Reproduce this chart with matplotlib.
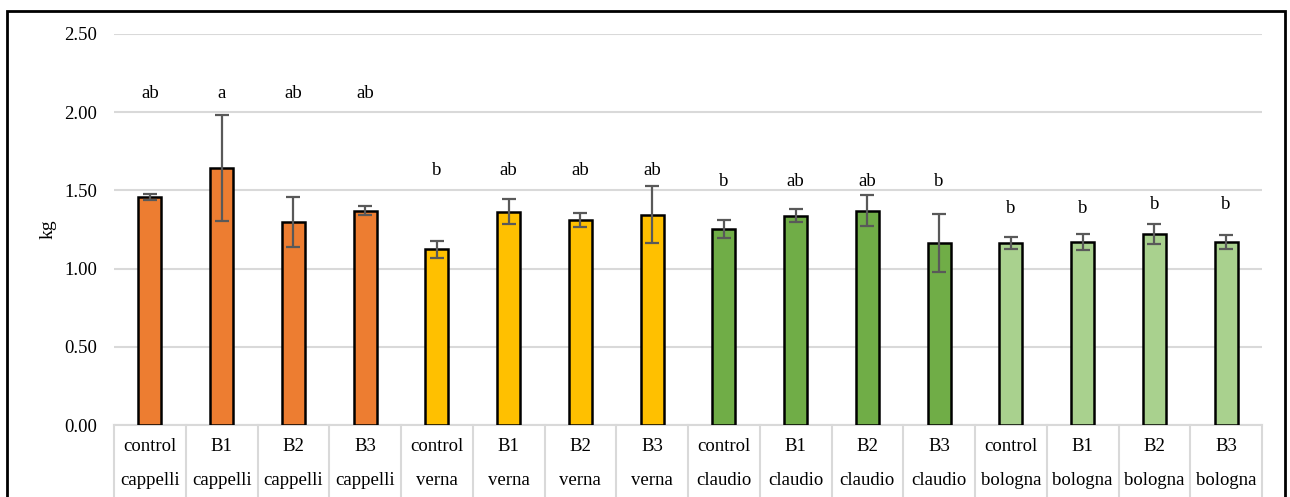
import matplotlib
matplotlib.use("Agg")
import matplotlib.pyplot as plt
from matplotlib.patches import Rectangle
import matplotlib.transforms as mtransforms

plt.rcParams['font.family'] = ['Liberation Serif', 'DejaVu Serif']

treatments = ["control", "B1", "B2", "B3"] * 4
varieties = ["cappelli"] * 4 + ["verna"] * 4 + ["claudio"] * 4 + ["bologna"] * 4
values = [1.46, 1.645, 1.30, 1.37,
          1.123, 1.364, 1.311, 1.345,
          1.253, 1.338, 1.37, 1.162,
          1.162, 1.17, 1.219, 1.168]
errors = [0.02, 0.34, 0.16, 0.03,
          0.055, 0.08, 0.045, 0.18,
          0.06, 0.04, 0.10, 0.185,
          0.037, 0.052, 0.063, 0.045]
letters = ["ab", "a", "ab", "ab",
           "b", "ab", "ab", "ab",
           "b", "ab", "ab", "b",
           "b", "b", "b", "b"]
letter_y = [2.09, 2.09, 2.09, 2.09,
            1.60, 1.60, 1.60, 1.60,
            1.528, 1.528, 1.528, 1.528,
            1.357, 1.357, 1.379, 1.379]
variety_colors = {"cappelli": "#ED7D31", "verna": "#FFC000",
                  "claudio": "#70AD47", "bologna": "#A9D18E"}
yticks = [0.0, 0.5, 1.0, 1.5, 2.0, 2.5]

W, H = 1290, 497
fig = plt.figure(figsize=(W / 100, H / 100), dpi=100)
ax = fig.add_axes([114 / W, (H - 425) / H, (1262 - 114) / W, (425 - 34) / H])

x = list(range(len(values)))
colors = [variety_colors[v] for v in varieties]
ax.bar(x, values, width=0.32, color=colors, edgecolor="black", linewidth=1.8, zorder=3)
ax.errorbar(x, values, yerr=errors, fmt="none", ecolor="#595959", elinewidth=1.6,
            capsize=5, capthick=1.6, zorder=4)

for xi, lab, ly in zip(x, letters, letter_y):
    ax.text(xi, ly, lab, ha="center", va="baseline", fontsize=13.5, color="black")

ax.set_xlim(-0.5, len(values) - 0.5)
ax.set_ylim(0, 2.5)
ax.set_yticks(yticks)
ax.set_yticklabels([f"{t:.2f}" for t in yticks], fontsize=13.5)
ax.tick_params(axis="y", length=0, pad=12)
ax.set_xticks([])
ax.yaxis.grid(True, color="#d9d9d9", linewidth=1.5, zorder=0)
ax.set_axisbelow(True)
for s in ["top", "right", "left"]:
    ax.spines[s].set_visible(False)
ax.spines["bottom"].set_color("#d9d9d9")
ax.spines["bottom"].set_linewidth(1.5)
ax.set_ylabel("kg", fontsize=14)
ax.yaxis.set_label_coords(-0.05, 0.5)

trans = mtransforms.blended_transform_factory(ax.transData, ax.transAxes)
for i in range(len(values) + 1):
    ax.plot([i - 0.5, i - 0.5], [0, -0.3], transform=trans, color="#d9d9d9",
            linewidth=1.5, clip_on=False)
for xi, t, v in zip(x, treatments, varieties):
    ax.text(xi, -0.056, t, transform=trans, ha="center", va="center", fontsize=13.5)
    ax.text(xi, -0.143, v, transform=trans, ha="center", va="center", fontsize=13.5)

fig.patches.append(Rectangle((7 / W, -0.1), (1285 - 7) / W, (H - 11) / H + 0.1,
                             transform=fig.transFigure, fill=False, edgecolor="black",
                             linewidth=2, clip_on=False))

fig.savefig("out.png", dpi=100, facecolor="white")
